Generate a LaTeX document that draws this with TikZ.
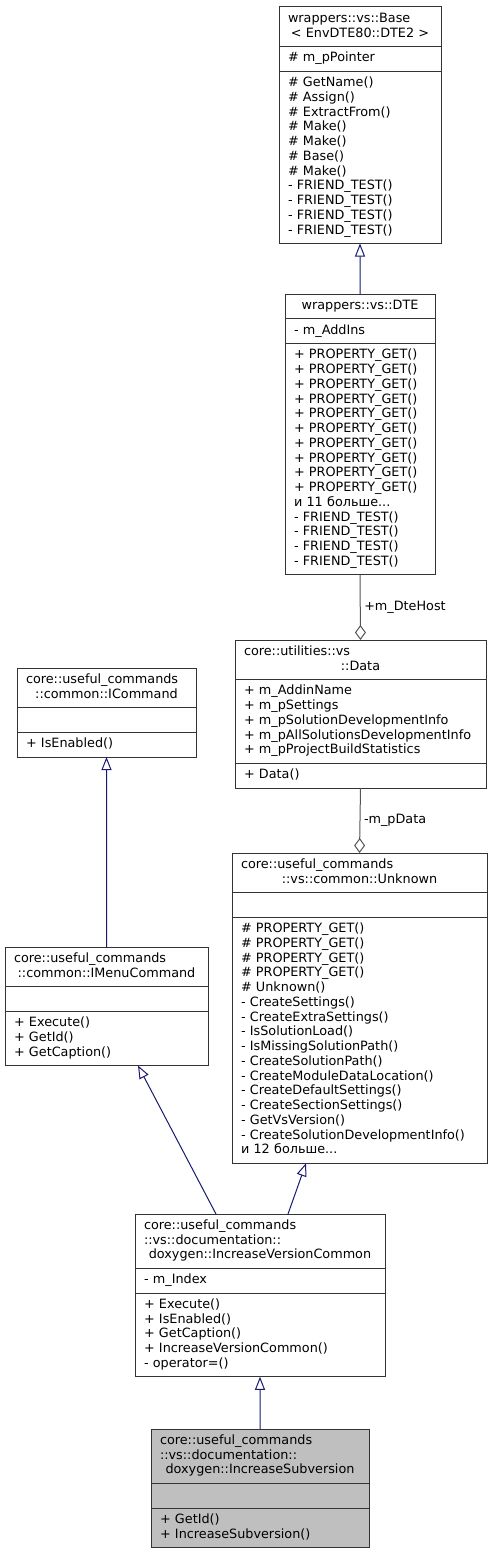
\documentclass[tikz,border=0pt]{standalone}
\usepackage{fontspec}
\setmainfont{DejaVu Sans}
\usepackage{tikz}
\usetikzlibrary{arrows.meta, shapes.multipart}
\usepackage{xcolor}
\definecolor{boxline}{HTML}{333333}
\definecolor{selgray}{HTML}{BFBFBF}
\definecolor{inhblue}{HTML}{191970}
\definecolor{aggrgray}{HTML}{555555}
\setlength{\parskip}{0pt}
\newcommand{\umlfont}{\fontsize{12.8bp}{14.75bp}\selectfont}
% title: first lines flush left, last line centred
\newcommand{\clsline}[1]{\makebox[\linewidth][c]{\strut#1\strut}}
\newcommand{\clstitle}[2]{\strut#1\\\clsline{#2}}

\begin{document}
\begin{tikzpicture}[
    x=1bp, y=-1bp,
    every node/.style={font=\umlfont},
    cls/.style={draw=boxline, line width=1bp, fill=white, rectangle split, rectangle split parts=3,
        align=left, inner xsep=9bp, inner ysep=4.5bp, outer sep=0pt, anchor=north west},
    inherit/.style={-{Triangle[open, length=13bp, width=10bp]}, draw=inhblue, line width=1bp},
    aggr/.style={-{Diamond[open, length=15bp, width=11bp]}, draw=aggrgray, line width=1bp},
    role/.style={right, inner sep=3.5bp}
]
\useasboundingbox (0,0) rectangle (493,1555);

% wrappers
\node[cls, text width=144bp] (Base) at (279,7)
    {\clstitle{wrappers::vs::Base}{< EnvDTE80::DTE2 >}
     \nodepart{two}\strut\# m\_pPointer\strut
     \nodepart{three}\strut\# GetName()\\\# Assign()\\\# ExtractFrom()\\\# Make()\\\# Make()\\\# Base()\\\# Make()\\
     - FRIEND\_TEST()\\- FRIEND\_TEST()\\- FRIEND\_TEST()\\- FRIEND\_TEST()\strut};
\node[cls, text width=132bp] (DTE) at (285,294)
    {\clsline{wrappers::vs::DTE}
     \nodepart{two}\strut- m\_AddIns\strut
     \nodepart{three}\strut+ PROPERTY\_GET()\\+ PROPERTY\_GET()\\+ PROPERTY\_GET()\\+ PROPERTY\_GET()\\+ PROPERTY\_GET()\\
     + PROPERTY\_GET()\\+ PROPERTY\_GET()\\+ PROPERTY\_GET()\\+ PROPERTY\_GET()\\+ PROPERTY\_GET()\\и 11 больше...\\
     - FRIEND\_TEST()\\- FRIEND\_TEST()\\- FRIEND\_TEST()\\- FRIEND\_TEST()\strut};

% utilities
\node[cls, text width=233bp] (Data) at (235,640)
    {\clstitle{core::utilities::vs}{::Data}
     \nodepart{two}\strut+ m\_AddinName\\+ m\_pSettings\\+ m\_pSolutionDevelopmentInfo\\+ m\_pAllSolutionsDevelopmentInfo\\
     + m\_pProjectBuildStatistics\strut
     \nodepart{three}\strut+ Data()\strut};
\node[cls, text width=237bp] (Unknown) at (232,853)
    {\clstitle{core::useful\_commands}{::vs::common::Unknown}
     \nodepart{two}\strut
     \nodepart{three}\strut\# PROPERTY\_GET()\\\# PROPERTY\_GET()\\\# PROPERTY\_GET()\\\# PROPERTY\_GET()\\\# Unknown()\\
     - CreateSettings()\\- CreateExtraSettings()\\- IsSolutionLoad()\\- IsMissingSolutionPath()\\- CreateSolutionPath()\\
     - CreateModuleDataLocation()\\- CreateDefaultSettings()\\- CreateSectionSettings()\\- GetVsVersion()\\
     - CreateSolutionDevelopmentInfo()\\и 12 больше...\strut};

% commands
\node[cls, text width=161bp] (ICommand) at (17,668)
    {\clstitle{core::useful\_commands}{::common::ICommand}
     \nodepart{two}\strut
     \nodepart{three}\strut+ IsEnabled()\strut};
\node[cls, text width=185bp] (IMenu) at (5,947)
    {\clstitle{core::useful\_commands}{::common::IMenuCommand}
     \nodepart{two}\strut
     \nodepart{three}\strut+ Execute()\\+ GetId()\\+ GetCaption()\strut};
\node[cls, text width=232bp] (IVC) at (135,1214)
    {\clstitle{core::useful\_commands\\::vs::documentation::}{doxygen::IncreaseVersionCommon}
     \nodepart{two}\strut- m\_Index\strut
     \nodepart{three}\strut+ Execute()\\+ IsEnabled()\\+ GetCaption()\\+ IncreaseVersionCommon()\\- operator=()\strut};
\node[cls, text width=200bp, fill=selgray] (ISV) at (151,1429)
    {\clstitle{core::useful\_commands\\::vs::documentation::}{doxygen::IncreaseSubversion}
     \nodepart{two}\strut
     \nodepart{three}\strut+ GetId()\\+ IncreaseSubversion()\strut};

% relations
\draw[inherit] (DTE.north) -- (Base.south);
\draw[aggr] (DTE.south) -- node[role]{+m\_DteHost} (Data.north);
\draw[aggr] (Data.south) -- node[role]{-m\_pData} (Unknown.north);
\draw[inherit] (IMenu.north) -- (ICommand.south);
\draw[inherit] ([xshift=81bp]IVC.north west) -- ([xshift=133bp]IMenu.south west);
\draw[inherit] ([xshift=153bp]IVC.north west) -- ([xshift=74bp]Unknown.south west);
\draw[inherit] (ISV.north) -- (IVC.south);
\end{tikzpicture}
\end{document}
